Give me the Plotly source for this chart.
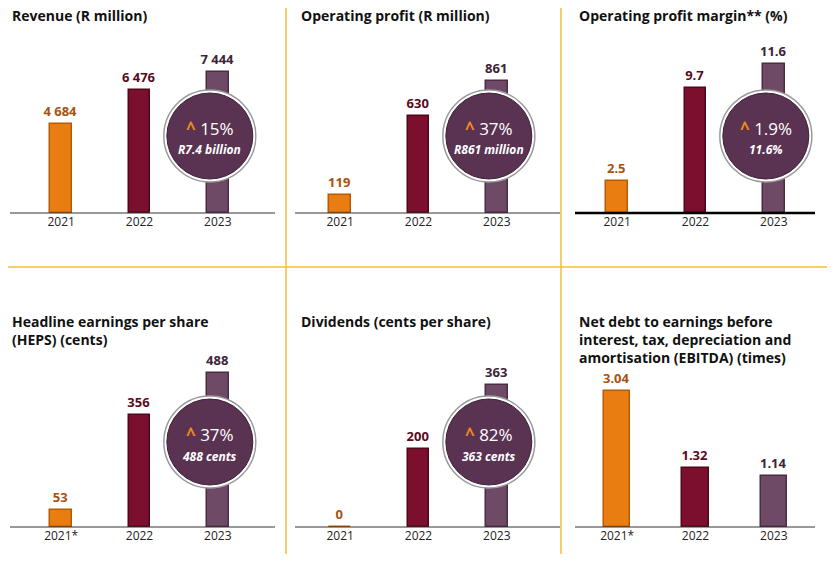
import plotly.graph_objects as go

# reference pixel frame; the page body adds an 8px margin, so the figure covers 8..827 x 8..554
OFF = 8
FW, FH = 819, 546


def px(x):
    return (x - OFF) / FW


def py(y):
    return 1 - (y - OFF) / FH


titles = [
    "Revenue (R million)",
    "Operating profit (R million)",
    "Operating profit margin** (%)",
    "Headline earnings per share<br>(HEPS) (cents)",
    "Dividends (cents per share)",
    "Net debt to earnings before<br>interest, tax, depreciation and<br>amortisation (EBITDA) (times)",
]
years_a = ["2021", "2022", "2023"]
years_b = ["2021*", "2022", "2023"]
revenue = [4684, 6476, 7444]
op_profit = [119, 630, 861]
op_margin = [2.5, 9.7, 11.6]
heps = [53, 356, 488]
dividends = [0, 200, 363]
net_debt = [3.04, 1.32, 1.14]
badge_pct = ["15%", "37%", "1.9%", "37%", "82%"]
badge_sub = ["R7.4 billion", "R861 million", "11.6%", "488 cents", "363 cents"]

panels = [
    (years_a, revenue, "{:,.0f}", 8077),
    (years_a, op_profit, "{:,.0f}", 998),
    (years_a, op_margin, "{:.1f}", 11.9),
    (years_b, heps, "{:,.0f}", 497),
    (years_a, dividends, "{:,.0f}", 401),
    (years_b, net_debt, "{:.2f}", 3.5),
]

bar_cols = ["#e97d12", "#7c0f2e", "#6e4a66"]
edge_cols = ["#b85a05", "#4f0719", "#4a2d43"]
txt_cols = ["#a8520c", "#5a0a20", "#3d2437"]

xdoms = [(22, 257), (301, 536), (578, 813)]
rows = [(213, 60, 4), (527, 370, 310)]

fig = go.Figure()
shapes, annots = [], []
for i, (cats, vals, fmt, ymax) in enumerate(panels):
    r, c = divmod(i, 3)
    n = i + 1
    x0, x1 = xdoms[c]
    base, top, ty = rows[r]
    xa = "x" if n == 1 else f"x{n}"
    ya = "y" if n == 1 else f"y{n}"
    bw = 0.34 if i == 5 else 0.28
    fig.add_trace(go.Bar(
        x=cats, y=vals, xaxis=xa, yaxis=ya, width=bw,
        marker=dict(color=bar_cols, line=dict(color=edge_cols, width=1.5)),
        text=[fmt.format(v).replace(",", " ") for v in vals],
        textposition="outside", cliponaxis=False, constraintext="none",
        textfont=dict(color=txt_cols, size=13, family="Open Sans", weight="bold"),
        showlegend=False, hoverinfo="skip",
    ))
    fig.update_layout({
        f"xaxis{n if n > 1 else ''}": dict(
            domain=[px(x0), px(x1)], anchor=ya, showgrid=False, zeroline=False,
            showline=False, ticks="", tickfont=dict(size=12, color="#222"),
            range=[-0.5, 2.5], fixedrange=True),
        f"yaxis{n if n > 1 else ''}": dict(
            domain=[py(base), py(top)], anchor=xa, range=[0, ymax],
            visible=False, fixedrange=True),
    })
    lx0 = 10 + c * 285 if c < 2 else 575
    lx1 = lx0 + 265 if c < 2 else 815
    shapes.append(dict(type="line", xref="paper", yref="paper",
                       x0=px(lx0), x1=px(lx1), y0=py(base), y1=py(base),
                       line=dict(color="#333" if i != 2 else "#000", width=1 if i != 2 else 2.5)))
    annots.append(dict(text=f"<b>{titles[i]}</b>", xref="paper", yref="paper",
                       x=px(10 + c * 289) if c < 2 else px(577), y=py(ty),
                       xanchor="left", yanchor="top", align="left", showarrow=False,
                       font=dict(size=14, color="#111", family="Open Sans")))
    if i < 5:
        cx = x0 + 2.5 * (x1 - x0) / 3 - 8
        cy = 136 if r == 0 else 442
        R = 43
        shapes.append(dict(type="circle", xref="paper", yref="paper",
                           x0=px(cx - R - 3), x1=px(cx + R + 3),
                           y0=py(cy + R + 3), y1=py(cy - R - 3),
                           fillcolor="#ffffff", line=dict(color="#9a9a9a", width=1.5)))
        shapes.append(dict(type="circle", xref="paper", yref="paper",
                           x0=px(cx - R), x1=px(cx + R),
                           y0=py(cy + R), y1=py(cy - R),
                           fillcolor="#5b3352", line=dict(color="#3e2139", width=1)))
        annots.append(dict(
            text=f"<span style='color:#f08a1d'><b>^</b></span> {badge_pct[i]}",
            xref="paper", yref="paper", x=px(cx), y=py(cy - 8), showarrow=False,
            xanchor="center", yanchor="middle",
            font=dict(size=17, color="white", family="Open Sans")))
        annots.append(dict(
            text=f"<b><i>{badge_sub[i]}</i></b>", xref="paper", yref="paper",
            x=px(cx), y=py(cy + 14), showarrow=False, xanchor="center", yanchor="middle",
            font=dict(size=12, color="white", family="Open Sans")))

gold = "#f3bf3a"
for xv in (286, 561):
    shapes.append(dict(type="line", xref="paper", yref="paper", x0=px(xv), x1=px(xv),
                       y0=0, y1=1, line=dict(color=gold, width=1.5)))
shapes.append(dict(type="line", xref="paper", yref="paper", x0=0, x1=1,
                   y0=py(267), y1=py(267), line=dict(color=gold, width=1.5)))

fig.update_layout(width=FW, height=FH, margin=dict(l=0, r=0, t=0, b=0),
                  plot_bgcolor="white", paper_bgcolor="white",
                  font=dict(family="Open Sans"), shapes=shapes, annotations=annots,
                  bargap=0)
fig.write_html("out.html")
